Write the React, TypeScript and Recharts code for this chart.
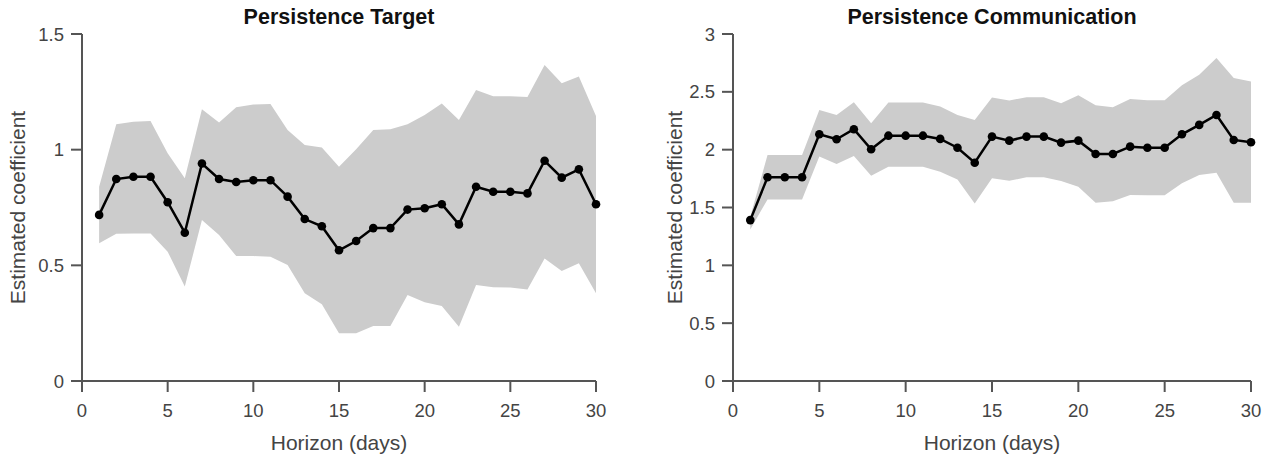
import { ComposedChart, Area, Line, XAxis, YAxis } from "recharts";

const days = [1, 2, 3, 4, 5, 6, 7, 8, 9, 10, 11, 12, 13, 14, 15, 16, 17, 18, 19, 20, 21, 22, 23, 24, 25, 26, 27, 28, 29, 30];

const targetMean = [0.718, 0.873, 0.883, 0.883, 0.773, 0.641, 0.94, 0.873, 0.86, 0.868, 0.868, 0.797, 0.7, 0.669, 0.565, 0.605, 0.661, 0.661, 0.741, 0.747, 0.764, 0.677, 0.84, 0.818, 0.818, 0.811, 0.952, 0.879, 0.915, 0.764];
const targetLow = [0.595, 0.637, 0.638, 0.638, 0.559, 0.408, 0.696, 0.631, 0.54, 0.54, 0.537, 0.501, 0.379, 0.332, 0.206, 0.206, 0.238, 0.238, 0.372, 0.34, 0.324, 0.235, 0.415, 0.405, 0.404, 0.396, 0.53, 0.476, 0.509, 0.379];
const targetHigh = [0.84, 1.11, 1.121, 1.124, 0.984, 0.876, 1.175, 1.117, 1.183, 1.195, 1.197, 1.085, 1.02, 1.009, 0.926, 1.002, 1.085, 1.088, 1.11, 1.15, 1.2, 1.128, 1.258, 1.231, 1.231, 1.228, 1.366, 1.287, 1.316, 1.146];

const commMean = [1.391, 1.761, 1.761, 1.761, 2.133, 2.09, 2.177, 2.003, 2.121, 2.121, 2.121, 2.093, 2.017, 1.887, 2.113, 2.078, 2.113, 2.113, 2.061, 2.078, 1.963, 1.963, 2.026, 2.017, 2.017, 2.133, 2.214, 2.3, 2.084, 2.064];
const commLow = [1.31, 1.57, 1.57, 1.57, 1.94, 1.876, 1.945, 1.775, 1.853, 1.853, 1.853, 1.81, 1.743, 1.535, 1.752, 1.731, 1.761, 1.761, 1.729, 1.679, 1.541, 1.555, 1.607, 1.605, 1.605, 1.709, 1.781, 1.801, 1.541, 1.541];
const commHigh = [1.42, 1.954, 1.954, 1.954, 2.344, 2.3, 2.41, 2.229, 2.407, 2.407, 2.407, 2.373, 2.3, 2.257, 2.451, 2.425, 2.454, 2.454, 2.402, 2.471, 2.385, 2.367, 2.437, 2.428, 2.428, 2.558, 2.647, 2.792, 2.619, 2.589];

const xTicks = [0, 5, 10, 15, 20, 25, 30];
const targetTicks = [0, 0.5, 1, 1.5];
const commTicks = [0, 0.5, 1, 1.5, 2, 2.5, 3];

const FONT = "Liberation Sans, Arial, sans-serif";
const AXIS = "#555555";
const TEXT = "#444444";

function buildRows(mean: number[], low: number[], high: number[]) {
  return days.map((d, i) => ({ day: d, mean: mean[i], band: [low[i], high[i]] }));
}

interface PanelProps {
  title: string;
  rows: { day: number; mean: number; band: number[] }[];
  yMax: number;
  yTicks: number[];
  left: number;
  width: number;
  axisWidth: number;
  rightMargin: number;
  labelX: number;
}

function Panel({ title, rows, yMax, yTicks, left, width, axisWidth, rightMargin, labelX }: PanelProps) {
  const plotLeft = axisWidth;
  const plotRight = width - rightMargin;
  const yLabel = (props: any) => {
    const vb = props.viewBox || {};
    const cy = (vb.y || 34) + (vb.height || 347) / 2;
    return (
      <text
        x={labelX}
        y={cy}
        transform={`rotate(-90, ${labelX}, ${cy})`}
        textAnchor="middle"
        fill={TEXT}
        fontSize={21}
        fontFamily={FONT}
      >
        Estimated coefficient
      </text>
    );
  };
  return (
    <div style={{ position: "absolute", left, top: 0, width, height: 455 }}>
      <div
        style={{
          position: "absolute",
          left: plotLeft - 20,
          width: plotRight - plotLeft + 40,
          top: 5,
          textAlign: "center",
          fontFamily: FONT,
          fontWeight: "bold",
          fontSize: 21.5,
          lineHeight: "24px",
          color: "#111",
          whiteSpace: "nowrap",
        }}
      >
        {title}
      </div>
      <ComposedChart
        width={width}
        height={455}
        data={rows}
        margin={{ top: 34, right: rightMargin, bottom: 0, left: 0 }}
      >
        <XAxis
          type="number"
          dataKey="day"
          domain={[0, 30]}
          ticks={xTicks}
          height={74}
          stroke={AXIS}
          strokeWidth={2}
          tickSize={11}
          tickMargin={12}
          tick={{ fill: TEXT, fontSize: 18.5, fontFamily: FONT }}
          label={{
            value: "Horizon (days)",
            position: "insideBottom",
            offset: 5,
            fill: TEXT,
            fontSize: 21,
            fontFamily: FONT,
          }}
        />
        <YAxis
          type="number"
          domain={[0, yMax]}
          ticks={yTicks}
          width={axisWidth}
          stroke={AXIS}
          strokeWidth={2}
          tickSize={11}
          tickMargin={7}
          tick={{ fill: TEXT, fontSize: 18.5, fontFamily: FONT }}
          label={yLabel}
        />
        <Area
          dataKey="band"
          type="linear"
          stroke="none"
          fill="#cccccc"
          fillOpacity={1}
          isAnimationActive={false}
          dot={false}
          activeDot={false}
        />
        <Line
          dataKey="mean"
          type="linear"
          stroke="#000"
          strokeWidth={2.5}
          dot={{ r: 4.3, fill: "#000", stroke: "#000", strokeWidth: 0 }}
          activeDot={false}
          isAnimationActive={false}
        />
      </ComposedChart>
    </div>
  );
}

export default function App() {
  return (
    <div style={{ position: "absolute", left: 0, top: 0, width: 1271, height: 455, background: "#fff" }}>
      <Panel
        title="Persistence Target"
        rows={buildRows(targetMean, targetLow, targetHigh)}
        yMax={1.5}
        yTicks={targetTicks}
        left={0}
        width={640}
        axisWidth={82}
        rightMargin={44}
        labelX={25}
      />
      <Panel
        title="Persistence Communication"
        rows={buildRows(commMean, commLow, commHigh)}
        yMax={3}
        yTicks={commTicks}
        left={640}
        width={631}
        axisWidth={93}
        rightMargin={20}
        labelX={42}
      />
    </div>
  );
}
